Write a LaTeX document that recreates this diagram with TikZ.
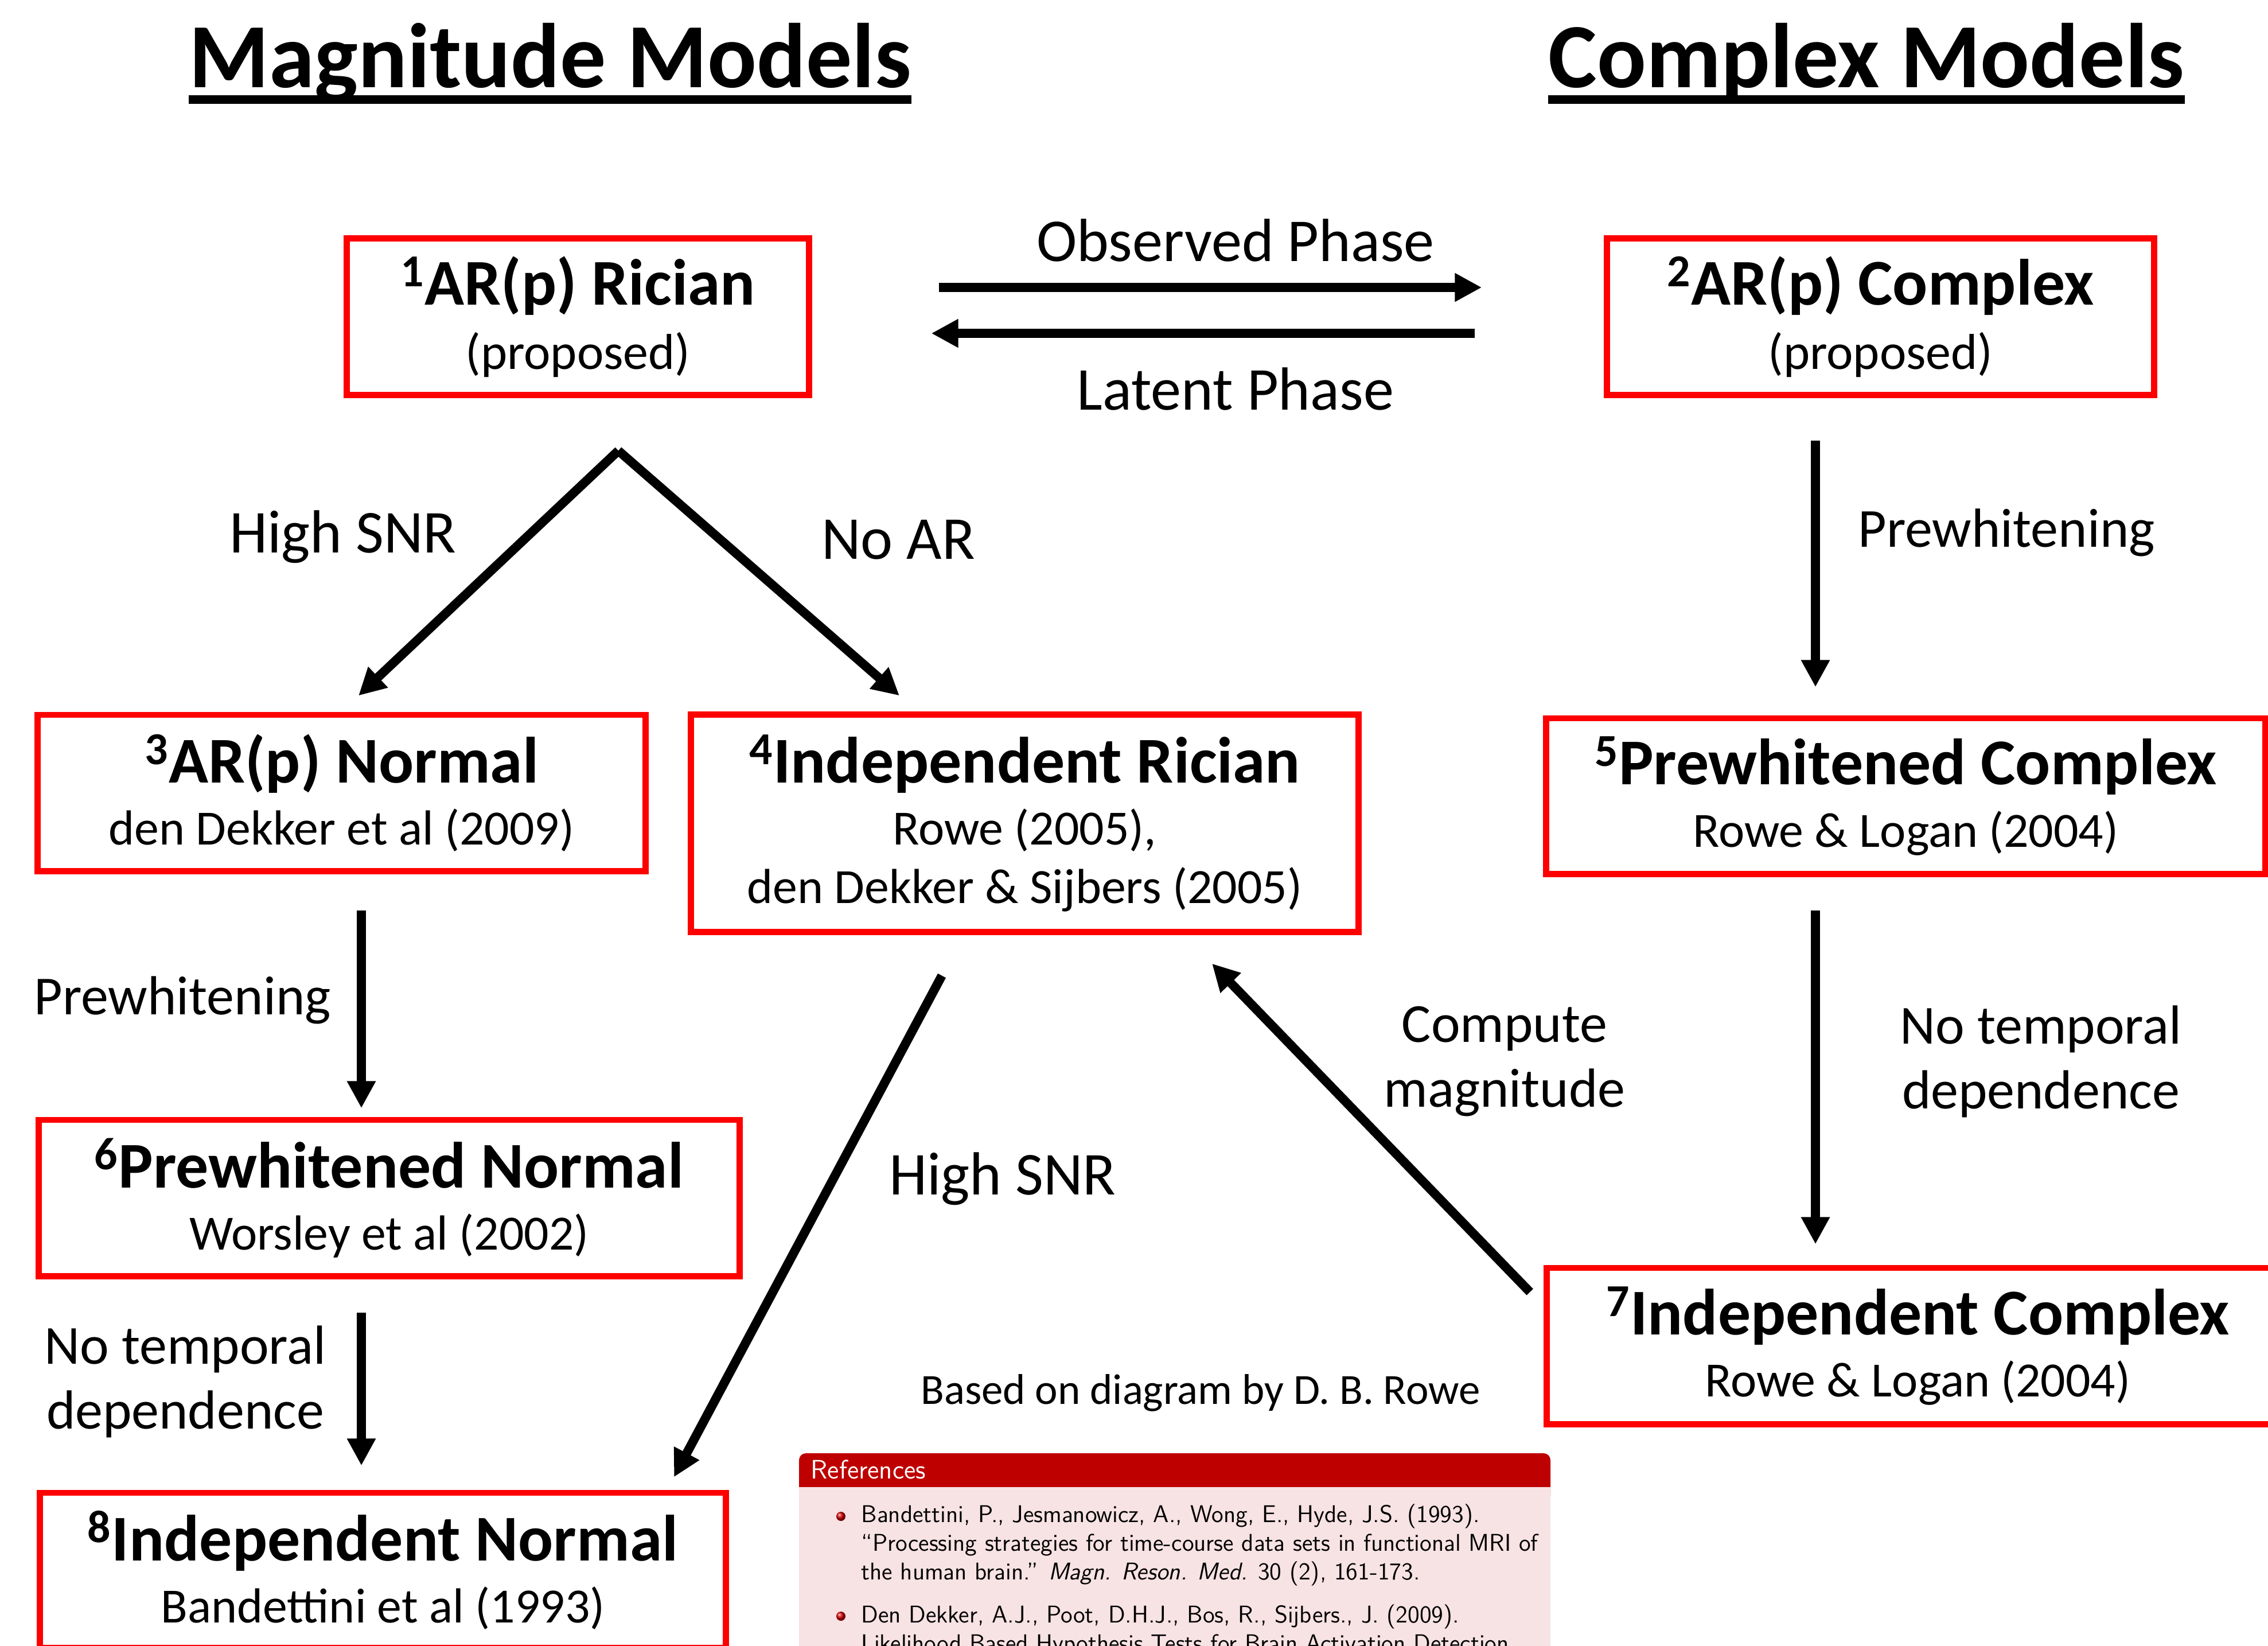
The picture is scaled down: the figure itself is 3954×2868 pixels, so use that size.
\documentclass[tikz,border=0pt]{standalone}
\usepackage{fontspec}
\setmainfont{Carlito}
\usetikzlibrary{arrows.meta,positioning}

\definecolor{refred}{RGB}{190,0,0}
\definecolor{refpink}{RGB}{247,226,228}

\newcommand{\ultitle}[1]{\setbox0=\hbox{#1}\rlap{\rule[-8.3pt]{\wd0}{4.3pt}}\box0}
\newcommand{\modelname}[2]{{\fontsize{32.4}{30}\selectfont\bfseries\textsuperscript{#1}#2}}

\begin{document}
\begin{tikzpicture}[x=0.01cm,y=-0.01cm]
        \tikzstyle{model}=[draw=red, line width=3.1pt, align=center, font=\fontsize{24.4}{28.8}\selectfont]
        \tikzstyle{heading}=[anchor=base, inner sep=0, font=\fontsize{45.5}{50}\selectfont\bfseries]
        \tikzstyle{lbl}=[align=center, font=\fontsize{30.2}{32}\selectfont]
        \tikzstyle{lblsmall}=[align=center, font=\fontsize{27.3}{32.2}\selectfont]
        \tikzstyle{connect}=[-{Triangle[length=0.47cm,width=0.47cm]}, line width=4.5pt]
        \useasboundingbox (0,0) rectangle (3954,2868);
        % headings
        \node[heading] (magtitle) at (959,152) {\ultitle{Magnitude Models}};
        \node[heading] (comptitle) at (3254,152) {\ultitle{Complex Models}};
        % models
        \node[model, minimum width=8.05cm, minimum height=2.72cm] (arric) at (1007.5,552) {\modelname{1}{AR(p) Rician}\\[3pt] {\fontsize{25}{29}\selectfont(proposed)}};
        \node[model, minimum width=9.53cm, minimum height=2.72cm] (arcomp) at (3278.5,552) {\modelname{2}{AR(p) Complex}\\[3pt] {\fontsize{25}{29}\selectfont(proposed)}};
        \node[model, minimum width=10.59cm, minimum height=2.72cm] (arnorm) at (595.5,1382) {\modelname{3}{AR(p) Normal}\\[2pt] den Dekker et al (2009)};
        \node[model, minimum width=11.63cm, minimum height=3.78cm] (indric) at (1786.5,1435) {\modelname{4}{Independent Rician}\\[2pt] Rowe (2005),\\ den Dekker \& Sijbers (2005)};
        \node[model, minimum width=12.53cm, minimum height=2.71cm] (pwcomp) at (3322.5,1387.5) {\modelname{5}{Prewhitened Complex}\\[2pt] Rowe \& Logan (2004)};
        \node[model, minimum width=12.21cm, minimum height=2.72cm] (pwnorm) at (678.5,2088) {\modelname{6}{Prewhitened Normal}\\[2pt] Worsley et al (2002)};
        \node[model, minimum width=12.93cm, minimum height=2.72cm] (indcomp) at (3343.5,2346) {\modelname{7}{Independent Complex}\\[2pt] Rowe \& Logan (2004)};
        \node[model, minimum width=11.95cm, minimum height=2.70cm] (indnorm) at (667.5,2737) {\modelname{8}{Independent Normal}\\[2pt] Bandettini et al (1993)};
        % labels
        \node[lbl] (obs) at (2154,419) {Observed Phase};
        \node[lbl] (lat) at (2154,678) {Latent Phase};
        \node[lbl] (hisnr1) at (598,936) {High SNR};
        \node[lbl] (noar) at (1566,941) {No AR};
        \node[lblsmall] (pwright) at (3498,928) {Prewhitening};
        \node[lblsmall] (pwleft) at (318,1743) {Prewhitening};
        \node[lblsmall] (notempleft) at (323,2408) {No temporal\\dependence};
        \node[lbl] (hisnr2) at (1748,2055) {High SNR};
        \node[lblsmall] (compmag) at (2623,1850) {Compute\\magnitude};
        \node[lblsmall] (notempright) at (3558,1850) {No temporal\\dependence};
        \node[font=\fontsize{21.3}{24}\selectfont] (based) at (2093,2428) {Based on diagram by D. B. Rowe};
        % connectors
        \coordinate (split) at ([shift={(70.5,92)}]arric.south);
        \draw[connect] (split) -- ([shift={(29.5,-28)}]arnorm.north);
        \draw[connect] (split) -- ([shift={(-218.5,-28)}]indric.north);
        \draw[connect] ([shift={(221,-51)}]arric.east) -- ([shift={(-213,-51)}]arcomp.west);
        \draw[connect] ([shift={(-225,29)}]arcomp.west) -- ([shift={(208,29)}]arric.east);
        \draw[connect] ([shift={(-113.5,74)}]arcomp.south) -- ([shift={(-157.5,-49)}]pwcomp.north);
        \draw[connect] ([shift={(34.5,63)}]arnorm.south) -- ([shift={(-48.5,-15)}]pwnorm.north);
        \draw[connect] ([shift={(-48.5,58)}]pwnorm.south) -- ([shift={(-37.5,-42)}]indnorm.north);
        \draw[connect] ([shift={(-144.5,71)}]indric.south) -- ([shift={(507.5,-22)}]indnorm.north);
        \draw[connect] ([shift={(-24,-94)}]indcomp.west) -- ([shift={(326.5,50)}]indric.south);
        \draw[connect] ([shift={(-157.5,58)}]pwcomp.south) -- ([shift={(-178.5,-36)}]indcomp.north);
        % references block
        \fill[refred, rounded corners=0.12cm] (1393,2533) rectangle (2703,2620);
        \fill[refpink] (1393,2592) rectangle (2703,2900);
        \node[anchor=base west, text=white, inner sep=0, font=\sffamily\fontsize{13.2}{15}\selectfont] (refhead) at (1413,2577) {References};
        \node[anchor=north west, inner sep=0, font=\sffamily\fontsize{12}{14.2}\selectfont] (refitems) at (1501,2618) {\scalebox{1.0}[1]{\begin{tabular}{@{}l@{}}
            Bandettini, P., Jesmanowicz, A., Wong, E., Hyde, J.S. (1993).\\
            ``Processing strategies for time-course data sets in functional MRI of\\
            the human brain.'' \textit{Magn. Reson. Med.} 30 (2), 161-173.\\[7pt]
            Den Dekker, A.J., Poot, D.H.J., Bos, R., Sijbers., J. (2009).\\
            Likelihood Based Hypothesis Tests for Brain Activation Detection
          \end{tabular}}};
        \shade[ball color=red!85!black] (1466,2643) circle (0.08cm);
        \shade[ball color=red!85!black] (1466,2817) circle (0.08cm);
\end{tikzpicture}
\end{document}
